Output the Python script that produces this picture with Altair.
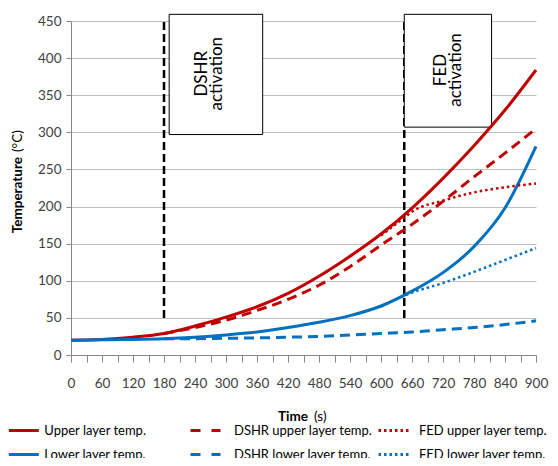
import altair as alt
import pandas as pd

RED = "#C00000"
BLUE = "#0070C0"
FONT = "Lato"

# ---- data ----
t_main = [0, 60, 120, 180, 240, 300, 360, 420, 480, 540, 600, 660, 720, 780, 840, 900]
upper_layer = [20, 21, 24, 29, 39, 51, 65, 83, 106, 133, 163, 198, 238, 282, 330, 384]
lower_layer = [20, 20.5, 21, 22, 24, 27, 31, 37, 44, 53, 66, 86, 111, 146, 198, 281]

t_dshr = [180, 240, 300, 360, 420, 480, 540, 600, 660, 720, 780, 840, 900]
dshr_upper = [29, 37, 47, 60, 75, 94, 119, 148, 176, 207, 240, 272, 305]
dshr_lower = [22, 22, 22.5, 23, 24, 25, 27, 29, 31, 34, 37, 41, 46]

t_fed = [600, 645, 660, 720, 780, 840, 900]
fed_upper = [161, 185, 193, 208, 219, 226, 231]
fed_lower = [65, 80, 84, 97, 112, 128, 144]

activation_t = [180, 645]
activation_from = [50, 50]
activation_to = [450, 450]

box_t1 = [190, 645]
box_t2 = [371, 814]
box_lo = [297, 307]
box_hi = [459, 459]
box_text = ["DSHR\nactivation", "FED\nactivation"]
box_text_t = [254, 716]
box_text_T = [379, 384]

x_ticks = list(range(0, 901, 30))
y_ticks = list(range(0, 451, 50))


def series(name, t, v):
    return pd.DataFrame({"t": t, "T": v, "series": name})


solid_df = pd.concat([series("Upper layer temp.", t_main, upper_layer),
                      series("Lower layer temp.", t_main, lower_layer)])
dshr_df = pd.concat([series("DSHR upper layer temp.", t_dshr, dshr_upper),
                     series("DSHR lower layer temp.", t_dshr, dshr_lower)])
fed_df = pd.concat([series("FED upper layer temp.", t_fed, fed_upper),
                    series("FED lower layer temp.", t_fed, fed_lower)])
act_df = pd.DataFrame({"t": activation_t, "T": activation_from, "T2": activation_to})
box_df = pd.DataFrame({"t": box_t1, "t2": box_t2, "T": box_lo, "T2": box_hi})
boxtxt_df = pd.DataFrame({"t": box_text_t, "T": box_text_T, "label": box_text})
one = pd.DataFrame({"a": [0]})

x_scale = alt.Scale(domain=[0, 900], nice=False, zero=False)
y_scale = alt.Scale(domain=[0, 450], nice=False)

x_axis = alt.Axis(values=x_ticks, labelExpr="datum.value % 60 == 0 ? datum.label : ''",
                  title=None, grid=False, tickSize=7, labelPadding=14, labelFont=FONT,
                  labelFontSize=13.5, labelColor="#404040", domainColor="#888888",
                  tickColor="#888888", labelAngle=0, labelFlush=False, labelOverlap=False)
y_axis = alt.Axis(values=y_ticks, title=None, grid=True, gridColor="#C0C0C0", tickSize=5,
                  labelPadding=5, labelFont=FONT, labelFontSize=13.5, labelColor="#404040",
                  domainColor="#888888", tickColor="#888888", labelFlush=False, labelOverlap=False)

X = alt.X("t:Q", scale=x_scale, axis=x_axis)
Y = alt.Y("T:Q", scale=y_scale, axis=y_axis)

rules = alt.Chart(act_df).mark_rule(color="black", strokeWidth=2.5, strokeDash=[8, 4]).encode(
    x=X, y=Y, y2="T2:Q")

boxes = alt.Chart(box_df).mark_rect(fill="white", stroke="black", strokeWidth=1).encode(
    x=X, x2="t2:Q", y=Y, y2="T2:Q")

box_labels = alt.Chart(boxtxt_df).mark_text(angle=270, lineBreak="\n", font=FONT, fontSize=17,
                                            lineHeight=15, align="center", baseline="middle",
                                            color="black").encode(x=X, y=Y, text="label:N")


def legend(x, offset, dash=None):
    kw = dict(title=None, orient="none", legendX=x, legendY=393, direction="vertical",
              symbolType="stroke", symbolSize=900, symbolStrokeWidth=3, labelOffset=offset,
              labelFont=FONT, labelFontSize=13, labelColor="black", rowPadding=0, padding=0)
    if dash:
        kw["symbolDash"] = dash
    return alt.Legend(**kw)


solid = alt.Chart(solid_df).mark_line(strokeWidth=3, interpolate="monotone").encode(
    x=X, y=Y,
    color=alt.Color("series:N", scale=alt.Scale(domain=["Upper layer temp.", "Lower layer temp."],
                                                range=[RED, BLUE]),
                    legend=legend(-63.7, 4)))

dshr = alt.Chart(dshr_df).mark_line(strokeWidth=3, strokeDash=[10, 6], interpolate="monotone").encode(
    x=X, y=Y,
    color=alt.Color("series:N", scale=alt.Scale(domain=["DSHR upper layer temp.", "DSHR lower layer temp."],
                                                range=[RED, BLUE]),
                    legend=legend(118, 12, [10, 11])))

fed = alt.Chart(fed_df).mark_line(strokeWidth=2.5, strokeDash=[2.5, 3], interpolate="monotone").encode(
    x=X, y=Y,
    color=alt.Color("series:N", scale=alt.Scale(domain=["FED upper layer temp.", "FED lower layer temp."],
                                                range=[RED, BLUE]),
                    legend=legend(306, 9, [2.5, 3])))

ytitle_a = alt.Chart(one).mark_text(angle=270, font=FONT, fontSize=13.5, fontWeight="bold",
                                    align="right", baseline="middle", color="black").encode(
    x=alt.value(-53), y=alt.value(136), text=alt.value("Temperature"))
ytitle_b = alt.Chart(one).mark_text(angle=270, font=FONT, fontSize=13.5, align="left",
                                    baseline="middle", color="black").encode(
    x=alt.value(-53), y=alt.value(131), text=alt.value("(°C)"))
xtitle_a = alt.Chart(one).mark_text(font=FONT, fontSize=13.5, fontWeight="bold", align="right",
                                    baseline="middle", color="black").encode(
    x=alt.value(237), y=alt.value(396), text=alt.value("Time"))
xtitle_b = alt.Chart(one).mark_text(font=FONT, fontSize=13.5, align="left", baseline="middle",
                                    color="black").encode(
    x=alt.value(243), y=alt.value(396), text=alt.value("(s)"))

chart = alt.layer(rules, boxes, box_labels, solid, dshr, fed,
                  ytitle_a, ytitle_b, xtitle_a, xtitle_b).resolve_scale(
    color="independent").properties(
    width=465, height=334,
    autosize=alt.AutoSizeParams(type="none"),
    padding={"left": 63, "top": 13, "right": 14, "bottom": 103},
    background="white",
).configure_view(stroke=None)

chart.save("out.html", embed_options={"renderer": "svg", "actions": False})
